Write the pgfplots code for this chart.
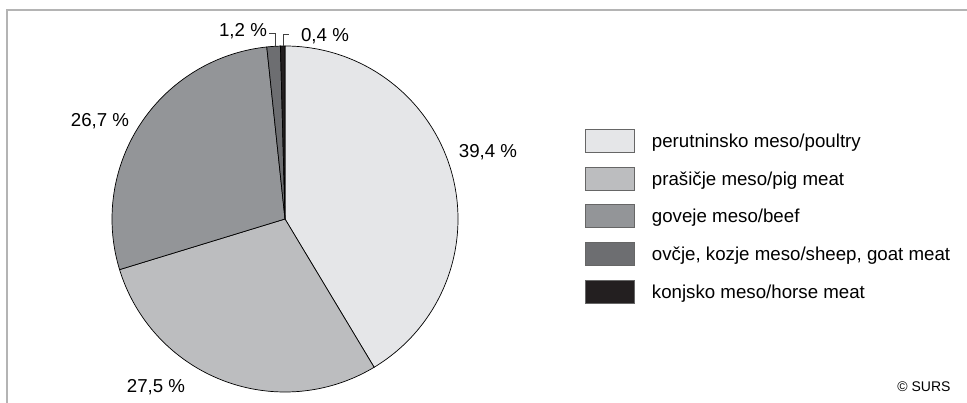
\documentclass[border=0pt]{standalone}
\usepackage{pgfplots}
\pgfplotsset{compat=1.18}
\usepackage{pgfplotstable}
\usepackage{fontspec}
\setmainfont{Liberation Sans}

\definecolor{cA}{HTML}{E5E6E8}
\definecolor{cB}{HTML}{BCBDBF}
\definecolor{cC}{HTML}{939598}
\definecolor{cD}{HTML}{6D6E71}
\definecolor{cE}{HTML}{231F20}
\definecolor{framegray}{HTML}{B4B4B4}

\newcommand{\lbl}{\fontsize{18.7bp}{22bp}\selectfont}

\pgfplotstableread{
share
39.4
27.5
26.7
1.2
0.4
}\meat

\begin{document}
\begin{tikzpicture}
\pgfplotstablegetelem{0}{share}\of\meat \let\vA\pgfplotsretval
\pgfplotstablegetelem{1}{share}\of\meat \let\vB\pgfplotsretval
\pgfplotstablegetelem{2}{share}\of\meat \let\vC\pgfplotsretval
\pgfplotstablegetelem{3}{share}\of\meat \let\vD\pgfplotsretval
\pgfplotstablegetelem{4}{share}\of\meat \let\vE\pgfplotsretval
\pgfmathsetmacro\tot{\vA+\vB+\vC+\vD+\vE}
\pgfmathsetmacro\aA{90}
\pgfmathsetmacro\aB{\aA-360*\vA/\tot}
\pgfmathsetmacro\aC{\aB-360*\vB/\tot}
\pgfmathsetmacro\aD{\aC-360*\vC/\tot}
\pgfmathsetmacro\aE{\aD-360*\vD/\tot}
\pgfmathsetmacro\aF{\aE-360*\vE/\tot}
\begin{axis}[
  width=967bp, height=403bp, scale only axis,
  xmin=0, xmax=967, ymin=0, ymax=403,
  hide axis, clip=false,
  legend cell align=left,
  legend style={at={(axis cs:584.6,273.8)}, anchor=north west,
    draw=none, fill=none, inner sep=0pt, outer sep=0pt,
    row sep=13.8bp, column sep=17.5bp,
    font=\lbl,
    nodes={inner sep=0pt, text height=13.4bp, text depth=0pt}},
  legend image code/.code={\draw[#1, draw=black!60, line width=0.8bp] (0bp,-11.5bp) rectangle (49bp,11.5bp);},
]
\addplot[fill=cA, draw=black, line width=0.7bp, domain=\aB:\aA, samples=150, variable=\t]
  ({285+173*cos(\t)},{184+173*sin(\t)}) -- (axis cs:285,184) -- cycle;
\addlegendentry{perutninsko meso/poultry}
\addplot[fill=cB, draw=black, line width=0.7bp, domain=\aC:\aB, samples=120, variable=\t]
  ({285+173*cos(\t)},{184+173*sin(\t)}) -- (axis cs:285,184) -- cycle;
\addlegendentry{prašičje meso/pig meat}
\addplot[fill=cC, draw=black, line width=0.7bp, domain=\aD:\aC, samples=120, variable=\t]
  ({285+173*cos(\t)},{184+173*sin(\t)}) -- (axis cs:285,184) -- cycle;
\addlegendentry{goveje meso/beef}
\addplot[fill=cD, draw=black, line width=0.7bp, domain=\aE:\aD, samples=10, variable=\t]
  ({285+173*cos(\t)},{184+173*sin(\t)}) -- (axis cs:285,184) -- cycle;
\addlegendentry{ovčje, kozje meso/sheep, goat meat}
\addplot[fill=cE, draw=black, line width=0.7bp, domain=\aF:\aE, samples=5, variable=\t]
  ({285+173*cos(\t)},{184+173*sin(\t)}) -- (axis cs:285,184) -- cycle;
\addlegendentry{konjsko meso/horse meat}

% frame
\draw[framegray, line width=2bp] (axis cs:7,0) -- (axis cs:7,393) -- (axis cs:967,393);

% value labels
\node[font=\lbl, anchor=base, inner sep=0pt] at (axis cs:488,245) {39,4 \%};
\node[font=\lbl, anchor=base, inner sep=0pt] at (axis cs:156,11) {27,5 \%};
\node[font=\lbl, anchor=base, inner sep=0pt] at (axis cs:100,276) {26,7 \%};
\node[font=\lbl, anchor=base, inner sep=0pt] at (axis cs:243,366) {1,2 \%};
\node[font=\lbl, anchor=base, inner sep=0pt] at (axis cs:325,361) {0,4 \%};
\node[font=\fontsize{14bp}{16bp}\selectfont, anchor=base, inner sep=0pt] at (axis cs:924,12) {© SURS};

% leader lines
\draw[black!75, line width=0.8bp] (axis cs:269,369.7) -- (axis cs:275.7,369.7) -- (axis cs:275.7,357);
\draw[black!75, line width=0.8bp] (axis cs:283.3,357) -- (axis cs:283.3,368.7) -- (axis cs:288.7,368.7);
\end{axis}
\pgfresetboundingbox
\useasboundingbox (current axis.south west) rectangle (current axis.north east);
\end{tikzpicture}
\end{document}
